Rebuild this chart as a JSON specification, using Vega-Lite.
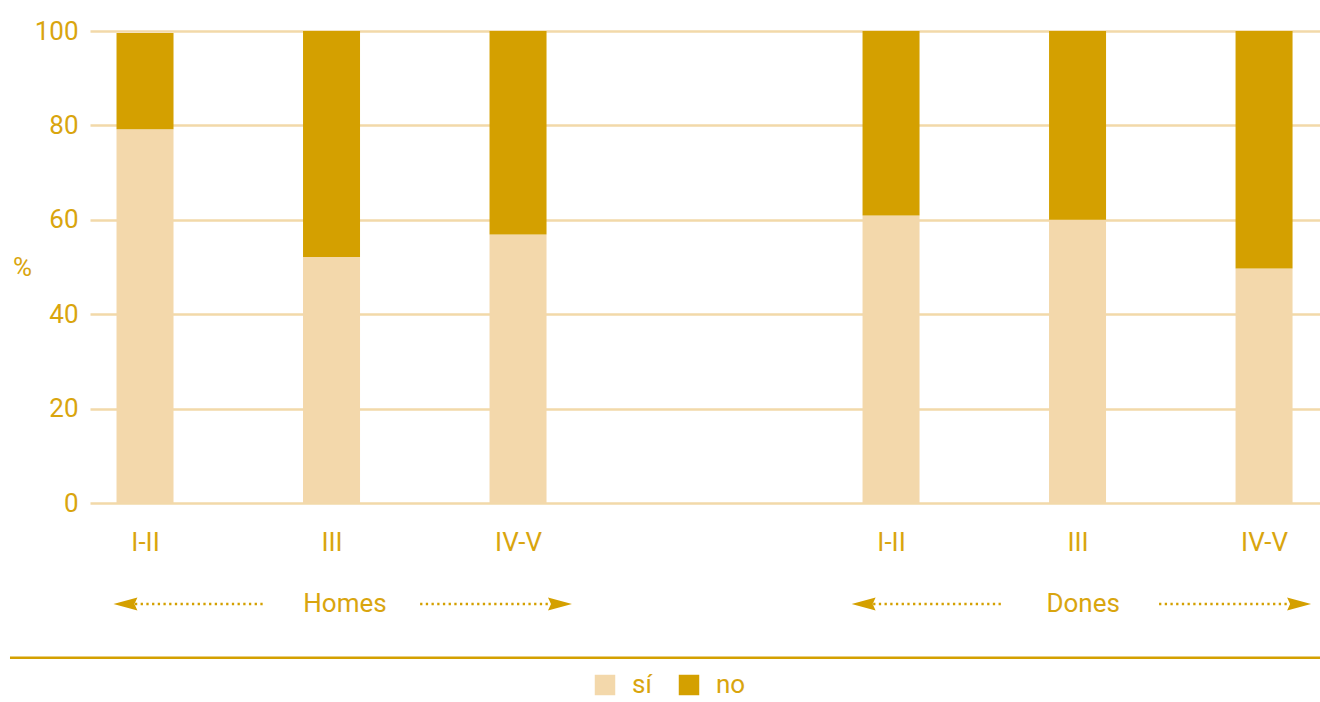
{
  "$schema": "https://vega.github.io/schema/vega-lite/v6.json",
  "width": 1230,
  "height": 472,
  "autosize": "none",
  "padding": {"left": 90, "top": 31, "right": 0, "bottom": 199},
  "background": "white",
  "config": {
    "view": {"stroke": null},
    "font": "Roboto",
    "text": {"font": "Roboto"}
  },
  "datasets": {
    "bars": [
      {"pos": 0, "grup": "I-II", "sexe": "Homes", "resp": "sí", "ord": 1, "pct": 79.2},
      {"pos": 0, "grup": "I-II", "sexe": "Homes", "resp": "no", "ord": 2, "pct": 20.4},
      {"pos": 1, "grup": "III", "sexe": "Homes", "resp": "sí", "ord": 1, "pct": 52.1},
      {"pos": 1, "grup": "III", "sexe": "Homes", "resp": "no", "ord": 2, "pct": 47.9},
      {"pos": 2, "grup": "IV-V", "sexe": "Homes", "resp": "sí", "ord": 1, "pct": 56.9},
      {"pos": 2, "grup": "IV-V", "sexe": "Homes", "resp": "no", "ord": 2, "pct": 43.1},
      {"pos": 4, "grup": "I-II", "sexe": "Dones", "resp": "sí", "ord": 1, "pct": 60.9},
      {"pos": 4, "grup": "I-II", "sexe": "Dones", "resp": "no", "ord": 2, "pct": 39.1},
      {"pos": 5, "grup": "III", "sexe": "Dones", "resp": "sí", "ord": 1, "pct": 60.0},
      {"pos": 5, "grup": "III", "sexe": "Dones", "resp": "no", "ord": 2, "pct": 40.0},
      {"pos": 6, "grup": "IV-V", "sexe": "Dones", "resp": "sí", "ord": 1, "pct": 49.7},
      {"pos": 6, "grup": "IV-V", "sexe": "Dones", "resp": "no", "ord": 2, "pct": 50.3}
    ],
    "lines": [
      {"x": -0.054, "x2": 0.643, "y": -21.4},
      {"x": 1.475, "x2": 2.21, "y": -21.4},
      {"x": 3.904, "x2": 4.6, "y": -21.4},
      {"x": 5.437, "x2": 6.17, "y": -21.4}
    ],
    "heads": [
      {"x": -0.105, "y": -21.4, "dir": "left"},
      {"x": 2.225, "y": -21.4, "dir": "right"},
      {"x": 3.853, "y": -21.4, "dir": "left"},
      {"x": 6.188, "y": -21.4, "dir": "right"}
    ],
    "labels": [
      {"x": 1.072, "y": -21.4, "label": "Homes"},
      {"x": 5.03, "y": -21.4, "label": "Dones"}
    ],
    "sep": [
      {"x": -0.724, "x2": 6.3, "y": -32.8}
    ]
  },
  "layer": [
    {
      "data": {"name": "bars"},
      "mark": {"type": "bar", "width": 57, "clip": false},
      "encoding": {
        "x": {
          "field": "pos",
          "type": "quantitative",
          "scale": {"domain": [-0.295, 6.3], "nice": false, "zero": false, "padding": 0},
          "axis": {
            "values": [0, 1, 2, 4, 5, 6],
            "labelExpr": "datum.value == 0 || datum.value == 4 ? 'I-II' : (datum.value == 1 || datum.value == 5 ? 'III' : 'IV-V')",
            "title": null,
            "domain": false,
            "ticks": false,
            "grid": false,
            "labelFontSize": 26,
            "labelColor": "#d9a50e",
            "labelPadding": 26,
            "labelFont": "Roboto"
          }
        },
        "y": {
          "field": "pct",
          "type": "quantitative",
          "stack": "zero",
          "scale": {"domain": [0, 100], "nice": false},
          "axis": {
            "values": [0, 20, 40, 60, 80, 100],
            "title": "%",
            "titleAngle": 0,
            "titleAlign": "center",
            "titleBaseline": "middle",
            "titleX": -68,
            "titleY": 236,
            "titleFontSize": 26,
            "titleFontWeight": "normal",
            "titleColor": "#d9a50e",
            "titleFont": "Roboto",
            "domain": false,
            "ticks": false,
            "grid": true,
            "gridColor": "#f2d9a9",
            "gridWidth": 2.5,
            "labelFontSize": 26,
            "labelColor": "#d9a50e",
            "labelPadding": 12,
            "labelFont": "Roboto"
          }
        },
        "order": {"field": "ord", "type": "quantitative"},
        "color": {
          "field": "resp",
          "type": "nominal",
          "scale": {"domain": ["sí", "no"], "range": ["#f3d8ab", "#d4a000"]},
          "legend": {
            "title": null,
            "orient": "none",
            "direction": "horizontal",
            "legendX": 502,
            "legendY": 641,
            "symbolType": "square",
            "symbolSize": 420,
            "symbolStrokeWidth": 0,
            "symbolOpacity": 1,
            "labelFontSize": 26,
            "labelColor": "#d9a50e",
            "labelFont": "Roboto",
            "labelOffset": 14,
            "columnPadding": 24
          }
        }
      }
    },
    {
      "data": {"name": "lines"},
      "mark": {"type": "rule", "color": "#d4a000", "strokeWidth": 2.3, "strokeDash": [2.3, 3.4], "clip": false},
      "encoding": {
        "x": {"field": "x", "type": "quantitative"},
        "x2": {"field": "x2"},
        "y": {"field": "y", "type": "quantitative"}
      }
    },
    {
      "data": {"name": "heads"},
      "mark": {"type": "point", "filled": true, "color": "#d4a000", "opacity": 1, "size": 576, "clip": false},
      "encoding": {
        "x": {"field": "x", "type": "quantitative"},
        "y": {"field": "y", "type": "quantitative"},
        "shape": {
          "field": "dir",
          "type": "nominal",
          "scale": {"domain": ["left", "right"], "range": ["M -1 0 L 1 -0.55 L 0.75 0 L 1 0.55 Z", "M 1 0 L -1 -0.55 L -0.75 0 L -1 0.55 Z"]},
          "legend": null
        }
      }
    },
    {
      "data": {"name": "labels"},
      "mark": {"type": "text", "color": "#d9a50e", "fontSize": 26, "font": "Roboto", "baseline": "middle", "align": "center", "clip": false},
      "encoding": {
        "x": {"field": "x", "type": "quantitative"},
        "y": {"field": "y", "type": "quantitative"},
        "text": {"field": "label"}
      }
    },
    {
      "data": {"name": "sep"},
      "mark": {"type": "rule", "color": "#d4a000", "strokeWidth": 2.5, "clip": false},
      "encoding": {
        "x": {"field": "x", "type": "quantitative"},
        "x2": {"field": "x2"},
        "y": {"field": "y", "type": "quantitative"}
      }
    }
  ]
}
